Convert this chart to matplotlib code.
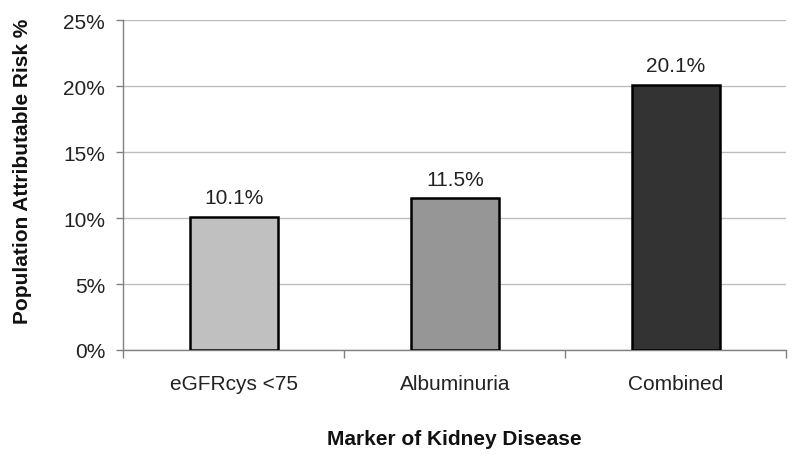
import matplotlib
matplotlib.use("Agg")
import matplotlib.pyplot as plt
from matplotlib.ticker import FuncFormatter, FixedLocator

categories = ["eGFRcys <75", "Albuminuria", "Combined"]
values = [10.1, 11.5, 20.1]
value_labels = ["10.1%", "11.5%", "20.1%"]
y_ticks = [0, 5, 10, 15, 20, 25]
colors = ["#c0c0c0", "#969696", "#333333"]

plt.rcParams['font.family'] = ['Liberation Sans', 'DejaVu Sans']

fig = plt.figure(figsize=(8, 4.6), dpi=100)
ax = fig.add_axes([0.154, 0.237, 0.829, 0.717])

x = list(range(len(categories)))
bars = ax.bar(x, values, width=0.4, color=colors, edgecolor="black", linewidth=1.8, zorder=3)
for xi, v, lab in zip(x, values, value_labels):
    ax.annotate(lab, (xi, v), xytext=(0, 7), textcoords="offset points",
                ha="center", va="bottom", fontsize=15, color="#222222")

ax.set_xlim(-0.5, 2.5)
ax.set_ylim(0, 25)
ax.set_yticks(y_ticks)
ax.yaxis.set_major_formatter(FuncFormatter(lambda v, p: f"{int(v)}%"))
ax.grid(axis="y", color="#bdbdbd", linewidth=1.0, zorder=0)
ax.set_axisbelow(True)

ax.set_xticks(x)
ax.set_xticklabels(categories)
ax.xaxis.set_minor_locator(FixedLocator([-0.5, 0.5, 1.5, 2.5]))
ax.tick_params(axis="x", which="major", length=0, pad=17, labelsize=15, labelcolor="#222222")
ax.tick_params(axis="x", which="minor", length=6, width=1, color="#808080", direction="out")
ax.tick_params(axis="y", length=5, width=1, color="#808080", direction="out", labelsize=15,
               labelcolor="#222222", pad=8)

for s in ["top", "right"]:
    ax.spines[s].set_visible(False)
for s in ["left", "bottom"]:
    ax.spines[s].set_color("#808080")
    ax.spines[s].set_linewidth(1.0)

ax.set_ylabel("Population Attributable Risk %", fontsize=15, fontweight="bold", color="#111111")
ax.yaxis.set_label_coords(-0.137, 0.545)
ax.set_xlabel("Marker of Kidney Disease", fontsize=15, fontweight="bold", labelpad=26, color="#111111")

fig.savefig("out.png", dpi=100)
